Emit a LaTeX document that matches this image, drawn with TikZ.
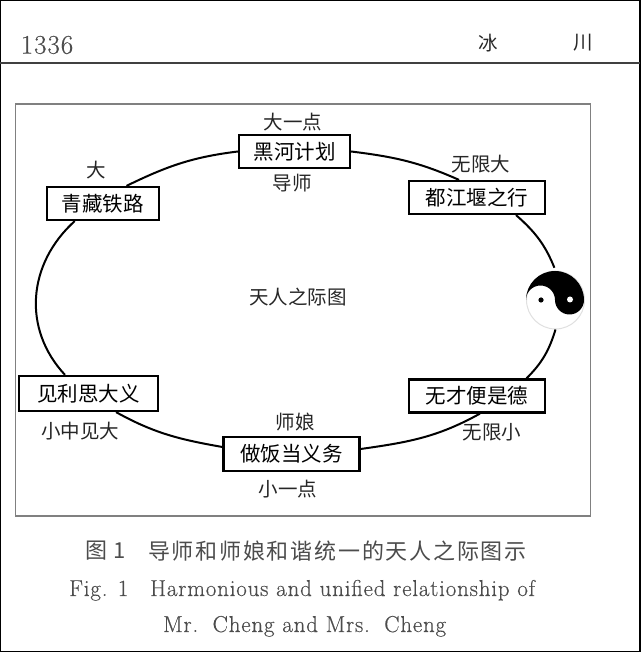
\documentclass[tikz,border=0pt]{standalone}
\usepackage{fontspec}
\newfontfamily\cjk{Noto Sans CJK SC}
\newfontfamily\cjkwide[LetterSpace=8]{Noto Sans CJK SC}
\newfontfamily\enwide[LetterSpace=3.5,FakeBold=0.4]{Latin Modern Roman}
\usetikzlibrary{positioning}
\definecolor{captiongray}{gray}{0.3}
\tikzset{
    box/.style = {rectangle,fill=white,draw=black,text=black,line width=2.2pt,minimum height=33pt,inner sep=0pt,font=\cjk\fontsize{20.5}{24}\selectfont},
    narrowbox/.style = {box,minimum width=111pt},
    widebox/.style = {box,minimum width=136pt},
    note/.style = {inner sep=0pt,text=black!85,font=\cjk\fontsize{19.5}{23}\selectfont},
    captionzh/.style = {anchor=west,inner sep=0pt,text=captiongray,font=\cjkwide\fontsize{22}{26}\selectfont},
    captionen/.style = {anchor=base west,inner sep=0pt,text=captiongray,font=\enwide\fontsize{23}{26}\selectfont},
    taijinode/.style = {circle,fill=white,draw=black!12,line width=1pt,minimum size=58pt,inner sep=0pt},
    arc/.style = {line width=2pt,black}
}
\begin{document}
\begin{tikzpicture}[x=1pt,y=1pt]
    \useasboundingbox (0,0) rectangle (640,652);
    \draw[line width=1.5pt] (0,0) rectangle (640,652);
    \draw[line width=1.6pt,black!75] (0,589) -- (640,589);
    \draw[line width=1.2pt,black!50] (15.5,548) rectangle (590.5,136);

    % head of the page
    \node[anchor=center,inner sep=0pt,text=captiongray,font=\enwide\fontsize{27}{32}\selectfont] (page) at (47,607) {1336};
    \node[note] (bing) at (488,609) {冰};
    \node[note] (chuan) at (583,609) {川};

    % boxes round the ring
    \node[narrowbox] (heihe) at (294.5,500.5) {黑河计划};
    \node[narrowbox,minimum width=112pt] (qinghai) at (102.75,448.5) {青藏铁路};
    \node[widebox] (dujiang) at (477,454.5) {都江堰之行};
    \node[widebox,minimum width=139pt,minimum height=35pt] (jianli) at (88.5,258.5) {见利思大义};
    \node[widebox] (wucai) at (477,256) {无才便是德};
    \node[widebox,minimum height=34pt] (zuofan) at (291.5,198) {做饭当义务};
    \node[taijinode] (taiji) at (555.5,352) {};

    % taiji sign
    \fill[black] (taiji.west) arc (180:0:29pt) arc (0:-180:14.5pt) arc (0:180:14.5pt) -- cycle;
    \fill[black] (541,352) circle (2.6pt);
    \fill[white] (570,352.5) circle (3pt);

    % labels
    \node[note,node distance=29pt,above of=heihe,xshift=-1.5pt] (bigdot) {大一点};
    \node[note,node distance=31.5pt,below of=heihe,xshift=-2.5pt] (daoshi) {导师};
    \node[note,node distance=33.5pt,above of=qinghai,xshift=-6.5pt] (big) {大};
    \node[note,node distance=33.5pt,above of=dujiang,xshift=4pt] (infbig) {无限大};
    \node[note,node distance=37.5pt,below of=jianli,xshift=-8.5pt] (smallbig) {小中见大};
    \node[note,node distance=36pt,below of=wucai,xshift=15pt] (infsmall) {无限小};
    \node[note,node distance=32pt,above of=zuofan,xshift=3.5pt] (shiniang) {师娘};
    \node[note,node distance=35pt,below of=zuofan,xshift=-3.5pt] (smalldot) {小一点};
    \node[note] (title) at (298,355) {天人之际图};

    % ring
    \path[arc]  ([xshift=23.75pt]qinghai.north) edge [out=26,in=187] (heihe.west)
                (heihe.east) edge [out=-7,in=156] ([xshift=-18pt]dujiang.north)
                ([xshift=39pt]dujiang.south) edge [out=-41,in=112,shorten >=3pt] (taiji.north)
                (taiji.south) edge [out=-107,in=45] ([xshift=49.5pt]wucai.north)
                ([xshift=3pt]wucai.south) edge [out=209,in=8] ([yshift=5pt]zuofan.east)
                ([yshift=7pt]zuofan.west) edge [out=170,in=-29] ([xshift=27.5pt]jianli.south)
                ([xshift=-23.5pt]jianli.north) edge [out=133,in=222,looseness=1.05] ([xshift=-28pt]qinghai.south);

    % caption
    \node[captionzh] (figzh) at (85,101) {图 1};
    \node[captionzh] (captionone) at (148,101) {导师和师娘和谐统一的天人之际图示};
    \node[captionen] (figen) at (69,56) {Fig. 1};
    \node[captionen] (captiontwo) at (150,56) {Harmonious and unified relationship of};
    \node[captionen] (captionthree) at (163,20) {Mr.\hspace{4pt} Cheng and Mrs.\hspace{4pt} Cheng};
\end{tikzpicture}
\end{document}
